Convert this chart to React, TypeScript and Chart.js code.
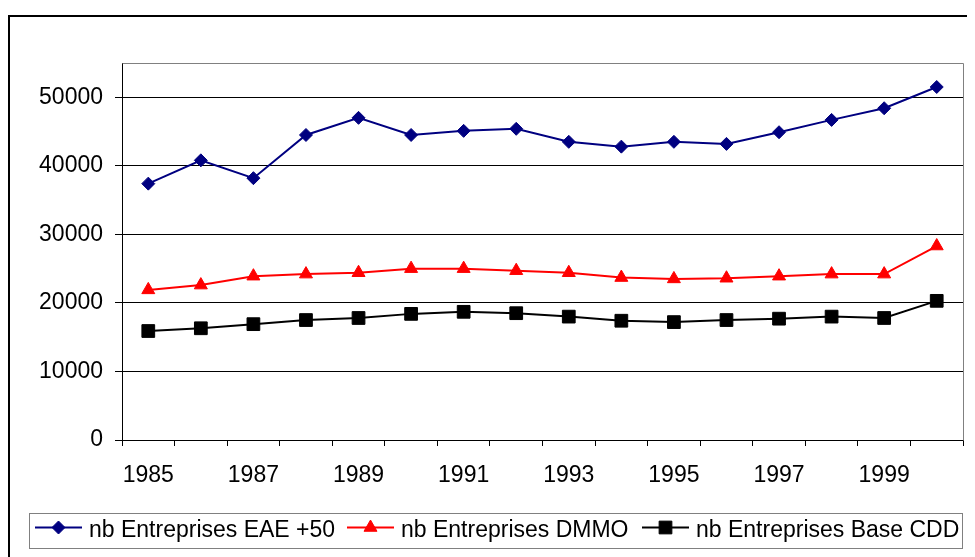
import React, { useEffect, useRef } from 'react';
import { Chart, registerables } from 'chart.js';
import { drawPoint } from 'chart.js/helpers';

Chart.register(...registerables);

const years = ['1985', '1986', '1987', '1988', '1989', '1990', '1991', '1992', '1993', '1994', '1995', '1996', '1997', '1998', '1999', '2000'];
const eae = [37400, 40800, 38200, 44500, 47000, 44500, 45100, 45400, 43500, 42800, 43500, 43200, 44900, 46700, 48400, 51500];
const dmmo = [21900, 22600, 23900, 24200, 24400, 25000, 25000, 24700, 24400, 23700, 23500, 23600, 23900, 24200, 24200, 28300];
const cdd = [15900, 16300, 16900, 17500, 17800, 18400, 18700, 18500, 18000, 17400, 17200, 17500, 17700, 18000, 17800, 20300];
const seriesNames = ['nb Entreprises EAE +50', 'nb Entreprises DMMO', 'nb Entreprises Base CDD'];
const yTicks = [0, 10000, 20000, 30000, 40000, 50000];
const yMax = 55000;

const FONT = '"Liberation Sans", Arial, sans-serif';
const FONT_SIZE = 23;

const plotBorder = {
  id: 'plotBorder',
  beforeDatasetsDraw(chart: any) {
    const { ctx, chartArea } = chart;
    ctx.save();
    ctx.strokeStyle = '#808080';
    ctx.lineWidth = 1;
    ctx.beginPath();
    ctx.moveTo(Math.round(chartArea.left) + 0.5, Math.round(chartArea.top) + 0.5);
    ctx.lineTo(Math.round(chartArea.right) + 0.5, Math.round(chartArea.top) + 0.5);
    ctx.lineTo(Math.round(chartArea.right) + 0.5, Math.round(chartArea.bottom) + 0.5);
    ctx.stroke();
    ctx.restore();
  },
};

const boxLegend = {
  id: 'boxLegend',
  afterDraw(chart: any) {
    const ctx = chart.ctx;
    const starts = [25, 337, 632];
    const lineY = 510.5;
    const textY = 519.5;
    ctx.save();
    ctx.strokeStyle = '#808080';
    ctx.lineWidth = 1;
    ctx.strokeRect(19.5, 496.5, 933, 35);
    ctx.font = `${FONT_SIZE}px ${FONT}`;
    ctx.textBaseline = 'alphabetic';
    ctx.textAlign = 'left';
    chart.data.datasets.forEach((ds: any, i: number) => {
      const x0 = starts[i];
      ctx.strokeStyle = ds.borderColor;
      ctx.lineWidth = 2;
      ctx.beginPath();
      ctx.moveTo(x0, lineY);
      ctx.lineTo(x0 + 47, lineY);
      ctx.stroke();
      ctx.fillStyle = ds.pointBackgroundColor;
      ctx.strokeStyle = ds.pointBorderColor;
      ctx.lineWidth = 1;
      drawPoint(ctx, { pointStyle: ds.pointStyle, radius: ds.pointRadius, rotation: 0, borderWidth: 1 }, x0 + 23.5, lineY);
      ctx.fillStyle = '#000';
      ctx.fillText(ds.label, x0 + 54, textY);
    });
    ctx.restore();
  },
};

export default function App() {
  const ref = useRef<HTMLCanvasElement>(null);
  useEffect(() => {
    if (!ref.current) return;
    const chart = new Chart(ref.current, {
      type: 'line',
      data: {
        labels: years,
        datasets: [
          {
            label: seriesNames[0],
            data: eae,
            borderColor: '#000080',
            backgroundColor: '#000080',
            pointBackgroundColor: '#000080',
            pointBorderColor: '#000080',
            pointStyle: 'rectRot',
            pointRadius: 6.5,
            pointBorderWidth: 1,
            borderWidth: 2,
            tension: 0,
          },
          {
            label: seriesNames[1],
            data: dmmo,
            borderColor: '#FF0000',
            backgroundColor: '#FF0000',
            pointBackgroundColor: '#FF0000',
            pointBorderColor: '#FF0000',
            pointStyle: 'triangle',
            pointRadius: 7.5,
            pointBorderWidth: 1,
            borderWidth: 2,
            tension: 0,
          },
          {
            label: seriesNames[2],
            data: cdd,
            borderColor: '#000000',
            backgroundColor: '#000000',
            pointBackgroundColor: '#000000',
            pointBorderColor: '#000000',
            pointStyle: 'rect',
            pointRadius: 9,
            pointBorderWidth: 1,
            borderWidth: 2,
            tension: 0,
          },
        ],
      },
      options: {
        responsive: false,
        animation: false,
        devicePixelRatio: 1,
        layout: { padding: { top: 46, right: 12, bottom: 60, left: 0 } },
        plugins: { legend: { display: false }, tooltip: { enabled: false } },
        scales: {
          x: {
            offset: true,
            afterFit(scale: any) { scale.height = 57; },
            grid: {
              offset: true,
              drawOnChartArea: false,
              drawTicks: true,
              tickLength: 6,
              color: '#000',
              lineWidth: 1,
            },
            border: { color: '#000', width: 1 },
            ticks: {
              autoSkip: false,
              maxRotation: 0,
              padding: 16,
              color: '#000',
              font: { family: FONT, size: FONT_SIZE },
              callback: (_v: any, i: number) => (i % 2 === 0 ? years[i] : ''),
            },
          },
          y: {
            min: 0,
            max: yMax,
            afterFit(scale: any) { scale.width = 112; },
            afterBuildTicks(scale: any) { scale.ticks = yTicks.map((v) => ({ value: v })); },
            grid: {
              color: '#000',
              lineWidth: 1,
              drawTicks: true,
              tickLength: 7,
            },
            border: { color: '#000', width: 1 },
            ticks: {
              autoSkip: false,
              padding: 12,
              color: '#000',
              font: { family: FONT, size: FONT_SIZE },
              callback: (v: any) => String(v),
            },
          },
        },
      },
      plugins: [plotBorder, boxLegend],
    } as any);
    return () => chart.destroy();
  }, []);
  return (
    <div style={{ paddingTop: 7 }}>
      <div
        style={{
          boxSizing: 'border-box',
          width: 967,
          height: 542,
          borderTop: '2px solid #000',
          borderLeft: '2px solid #000',
          overflow: 'hidden',
          background: '#fff',
        }}
      >
        <canvas ref={ref} width={965} height={540} style={{ display: 'block', width: 965, height: 540 }} />
      </div>
    </div>
  );
}
